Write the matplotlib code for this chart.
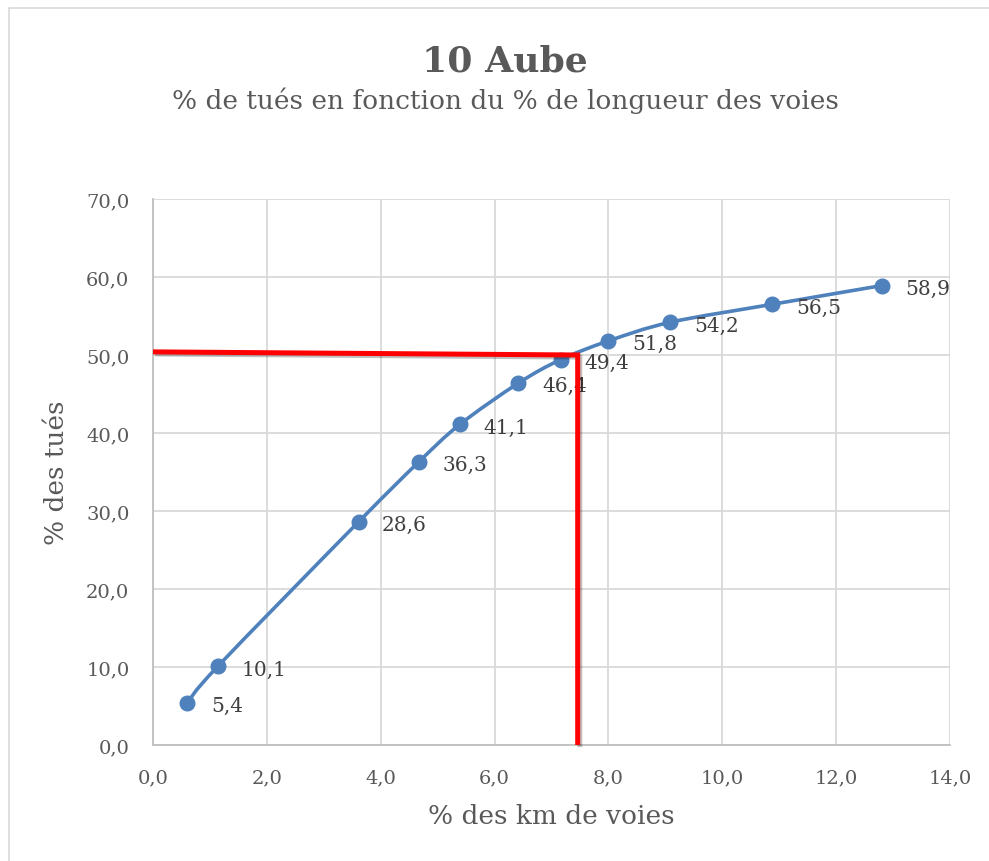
import matplotlib.pyplot as plt
import matplotlib.patheffects as pe
from matplotlib.patches import PathPatch, Rectangle
from matplotlib.path import Path
from matplotlib.ticker import FuncFormatter
import numpy as np

# data
pct_km = [0.6, 1.14, 3.61, 4.67, 5.39, 6.42, 7.16, 8.0, 9.09, 10.88, 12.8]
pct_tues = [5.4, 10.1, 28.6, 36.3, 41.1, 46.4, 49.4, 51.8, 54.2, 56.5, 58.9]
marker_x = [0.0, 7.46, 7.46]
marker_y = [50.4, 50.0, 0.0]

x_ticks = [0, 2, 4, 6, 8, 10, 12, 14]
y_ticks = [0, 10, 20, 30, 40, 50, 60, 70]

title = "10 Aube"
subtitle = "% de tués en fonction du % de longueur des voies"
x_label = "% des km de voies"
y_label = "% des tués"

BLUE = "#4f81bd"
TEXT = "#595959"
FONT = "DejaVu Serif"


def smooth_path(xs, ys, sx, sy):
    # Excel-like smoothed line: cubic Bezier through the points
    p = np.column_stack([np.array(xs) * sx, np.array(ys) * sy])
    verts = [p[0]]
    codes = [Path.MOVETO]
    n = len(p)
    for i in range(n - 1):
        p0 = p[i - 1] if i > 0 else p[i]
        p1 = p[i]
        p2 = p[i + 1]
        p3 = p[i + 2] if i + 2 < n else p[i + 1]
        c1 = p1 + (p2 - p0) / 6
        c2 = p2 - (p3 - p1) / 6
        verts += [c1, c2, p2]
        codes += [Path.CURVE4] * 3
    verts = np.array(verts) / [sx, sy]
    return Path(verts, codes)


fig = plt.figure(figsize=(9.89, 8.62), dpi=100)
fig.patches.append(Rectangle((9 / 989, -0.1), 1.2, 1 - 9 / 862 + 0.1,
                             transform=fig.transFigure, fill=False,
                             edgecolor="#d9d9d9", linewidth=1.2))

ax = fig.add_axes([153 / 989, 1 - 746 / 862, 797 / 989, 546 / 862])
ax.set_xlim(0, 14)
ax.set_ylim(0, 70)
ax.set_xticks(x_ticks)
ax.set_yticks(y_ticks)
fmt = FuncFormatter(lambda v, _: f"{v:.1f}".replace(".", ","))
ax.xaxis.set_major_formatter(fmt)
ax.yaxis.set_major_formatter(fmt)
ax.tick_params(length=0, labelsize=14, labelcolor=TEXT)
ax.tick_params(axis="y", pad=17)
ax.tick_params(axis="x", pad=17)
for lab in ax.get_xticklabels() + ax.get_yticklabels():
    lab.set_fontfamily(FONT)

ax.grid(True, color="#d9d9d9", linewidth=1.3)
ax.set_axisbelow(True)
for side in ("top", "right"):
    ax.spines[side].set_visible(False)
for side in ("left", "bottom"):
    ax.spines[side].set_color("#bfbfbf")
    ax.spines[side].set_linewidth(1.3)

# smoothed series line
path = smooth_path(pct_km, pct_tues, 797 / 14, 546 / 70)
ax.add_patch(PathPatch(path, fill=False, edgecolor=BLUE, linewidth=2.6,
                       capstyle="round", zorder=3))
ax.plot(pct_km, pct_tues, linestyle="none", marker="o", markersize=10.5,
        color=BLUE, zorder=4)

for x, y in zip(pct_km, pct_tues):
    ax.annotate(f"{y:.1f}".replace(".", ","), (x, y), xytext=(17, -2),
                textcoords="offset points", ha="left", va="center",
                fontsize=14.5, color="#404040", family=FONT, zorder=5)

# red reading lines
ax.plot(marker_x, marker_y, color="#ff0000", linewidth=3.6,
        solid_joinstyle="miter", solid_capstyle="butt", zorder=6,
        clip_on=False,
        path_effects=[pe.SimpleLineShadow(offset=(1.5, -1.5), alpha=0.25),
                      pe.Normal()])

ax.set_xlabel(x_label, fontsize=19, color=TEXT, family=FONT, labelpad=12)
ax.set_ylabel(y_label, fontsize=19, color=TEXT, family=FONT, labelpad=12)

fig.text(505 / 989, 1 - 72 / 862, title, ha="center", va="baseline",
         fontsize=26, fontweight="bold", color=TEXT, family=FONT)
fig.text(505 / 989, 1 - 109 / 862, subtitle, ha="center", va="baseline",
         fontsize=19, color=TEXT, family=FONT)

fig.savefig("out.png", dpi=100)
